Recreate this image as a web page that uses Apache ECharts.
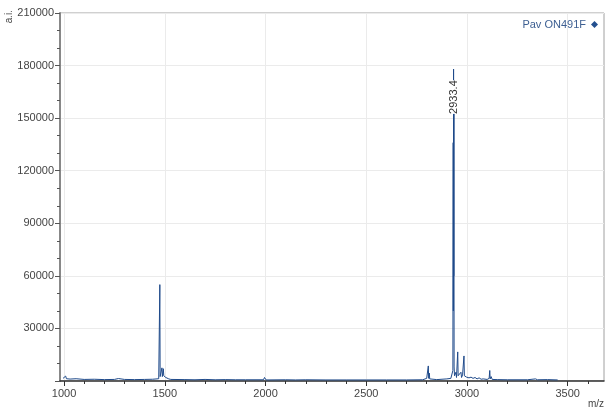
<!DOCTYPE html>
<html>
<head>
<meta charset="utf-8">
<script src="https://cdn.jsdelivr.net/npm/echarts@6/dist/echarts.min.js"></script>
<style>html,body{margin:0;padding:0;background:#fff}#c{width:608px;height:412px}</style>
</head>
<body>
<div id="c"></div>
<script>
var seriesName = 'Pav ON491F';
var mz = [995,1000,1003,1008,1012,1020,1030,1060,1100,1150,1200,1250,1270,1275,1300,1350,1400,1440,1470,1474,1475.5,1477,1480,1486,1488,1493,1495,1498,1505,1510,1520,1530,1600,1650,1700,1750,1800,1850,1900,1990,1995,2000,2003,2100,2150,2153,2200,2300,2400,2500,2600,2700,2780,2800,2806,2808,2810,2813,2815,2820,2850,2900,2920,2928,2930,2931.5,2932.4,2933.4,2934.3,2935,2936,2938,2945,2948,2954,2956,2960,2965,2970,2973,2978,2985,2987,2992,2998,3005,3010,3020,3030,3040,3050,3060,3070,3080,3100,3110,3113,3115,3120,3125,3150,3200,3300,3340,3350,3400,3450];
var intensity = [1500,2400,1200,2800,1300,2000,1100,1300,900,1000,800,900,1400,800,900,800,900,1000,1300,2000,55000,2500,1500,7500,2500,7000,3000,2500,2000,1800,1200,900,800,700,900,700,800,700,700,700,2000,1500,600,700,600,1600,700,600,600,600,600,600,700,1500,2000,8600,1500,4500,1200,900,800,1200,1500,2500,6000,136000,40000,178000,60000,153000,8000,3000,5000,2000,16600,3000,4000,2500,5000,2000,3500,14300,3000,4000,2200,3000,1800,2200,1500,2000,1200,1800,1000,1200,900,1500,6000,1200,2500,900,800,700,700,1200,700,800,600];
var peakLabelMz = [2933.4];
var peakLabelValue = [178000];
var xTickValues = [1000,1500,2000,2500,3000,3500];
var xMinorTickValues = [1000,1100,1200,1300,1400,1500,1600,1700,1800,1900,2000,2100,2200,2300,2400,2500,2600,2700,2800,2900,3000,3100,3200,3300,3400,3500,3600];
var yMin = 0, yMax = 210000, yStep = 30000;
var xMin = 980, xMax = 3680;

var data = mz.map(function (x, i) { return [x, intensity[i]]; });
var chart = echarts.init(document.getElementById('c'), null, {renderer: 'canvas'});
var fontFam = '"Liberation Sans", Arial, sans-serif';
chart.setOption({
  animation: false,
  textStyle: {fontFamily: fontFam},
  grid: {left: 60, right: 4, top: 13, bottom: 31, show: true, borderColor: '#a0a0a0', borderWidth: 1, backgroundColor: 'transparent'},
  legend: {
    data: [{name: seriesName, icon: 'diamond'}],
    right: 5, top: 14, align: 'right', itemWidth: 7, itemHeight: 7, itemGap: 4,
    textStyle: {color: '#3d5f92', fontSize: 11, fontFamily: fontFam}
  },
  xAxis: [{
    type: 'value', min: xMin, max: xMax,
    axisLine: {show: true, lineStyle: {color: '#333', width: 1.5}},
    axisTick: {show: true, length: 5, customValues: xTickValues, lineStyle: {color: '#333'}},
    axisLabel: {customValues: xTickValues, color: '#444', fontSize: 11, margin: 7, fontFamily: fontFam,
      formatter: function (v) { return String(v); }},
    splitLine: {show: true, lineStyle: {color: '#ebebeb'}}
  }, {
    type: 'value', min: xMin, max: xMax, position: 'bottom',
    axisLine: {show: false},
    axisTick: {show: true, length: 3, customValues: xMinorTickValues, lineStyle: {color: '#333'}},
    axisLabel: {show: false},
    splitLine: {show: false}
  }],
  yAxis: {
    type: 'value', min: yMin, max: yMax, interval: yStep,
    axisLine: {show: true, lineStyle: {color: '#888', width: 2}},
    axisTick: {show: true, length: 5, lineStyle: {color: '#555'}},
    minorTick: {show: true, splitNumber: 3, length: 3, lineStyle: {color: '#555'}},
    axisLabel: {color: '#444', fontSize: 11, margin: 6, fontFamily: fontFam,
      formatter: function (v) { return v === 0 ? '' : String(v); }},
    splitLine: {show: true, lineStyle: {color: '#ebebeb'}}
  },
  graphic: [
    {type: 'text', left: 4, top: 10, rotation: Math.PI / 2, style: {text: 'a.i.', fill: '#444', font: '10px ' + fontFam}},
    {type: 'text', right: 4, top: 399, style: {text: 'm/z', fill: '#444', font: '10px ' + fontFam}}
  ],
  series: [{
    name: seriesName, type: 'line', data: data, showSymbol: false, symbol: 'none',
    sampling: 'none', lineStyle: {color: '#1f4a8a', width: 1}, itemStyle: {color: '#24508f'},
    markPoint: {
      symbol: 'circle', symbolSize: 0,
      data: peakLabelMz.map(function (m, i) { return {coord: [m, peakLabelValue[i]], value: m}; }),
      label: {show: true, rotate: 90, offset: [-28, 0], position: 'inside',
        formatter: function (p) { return p.value.toFixed(1); },
        color: '#333', fontSize: 11, fontFamily: fontFam, backgroundColor: '#fff', padding: [1, 0]}
    }
  }]
});
</script>
</body>
</html>
